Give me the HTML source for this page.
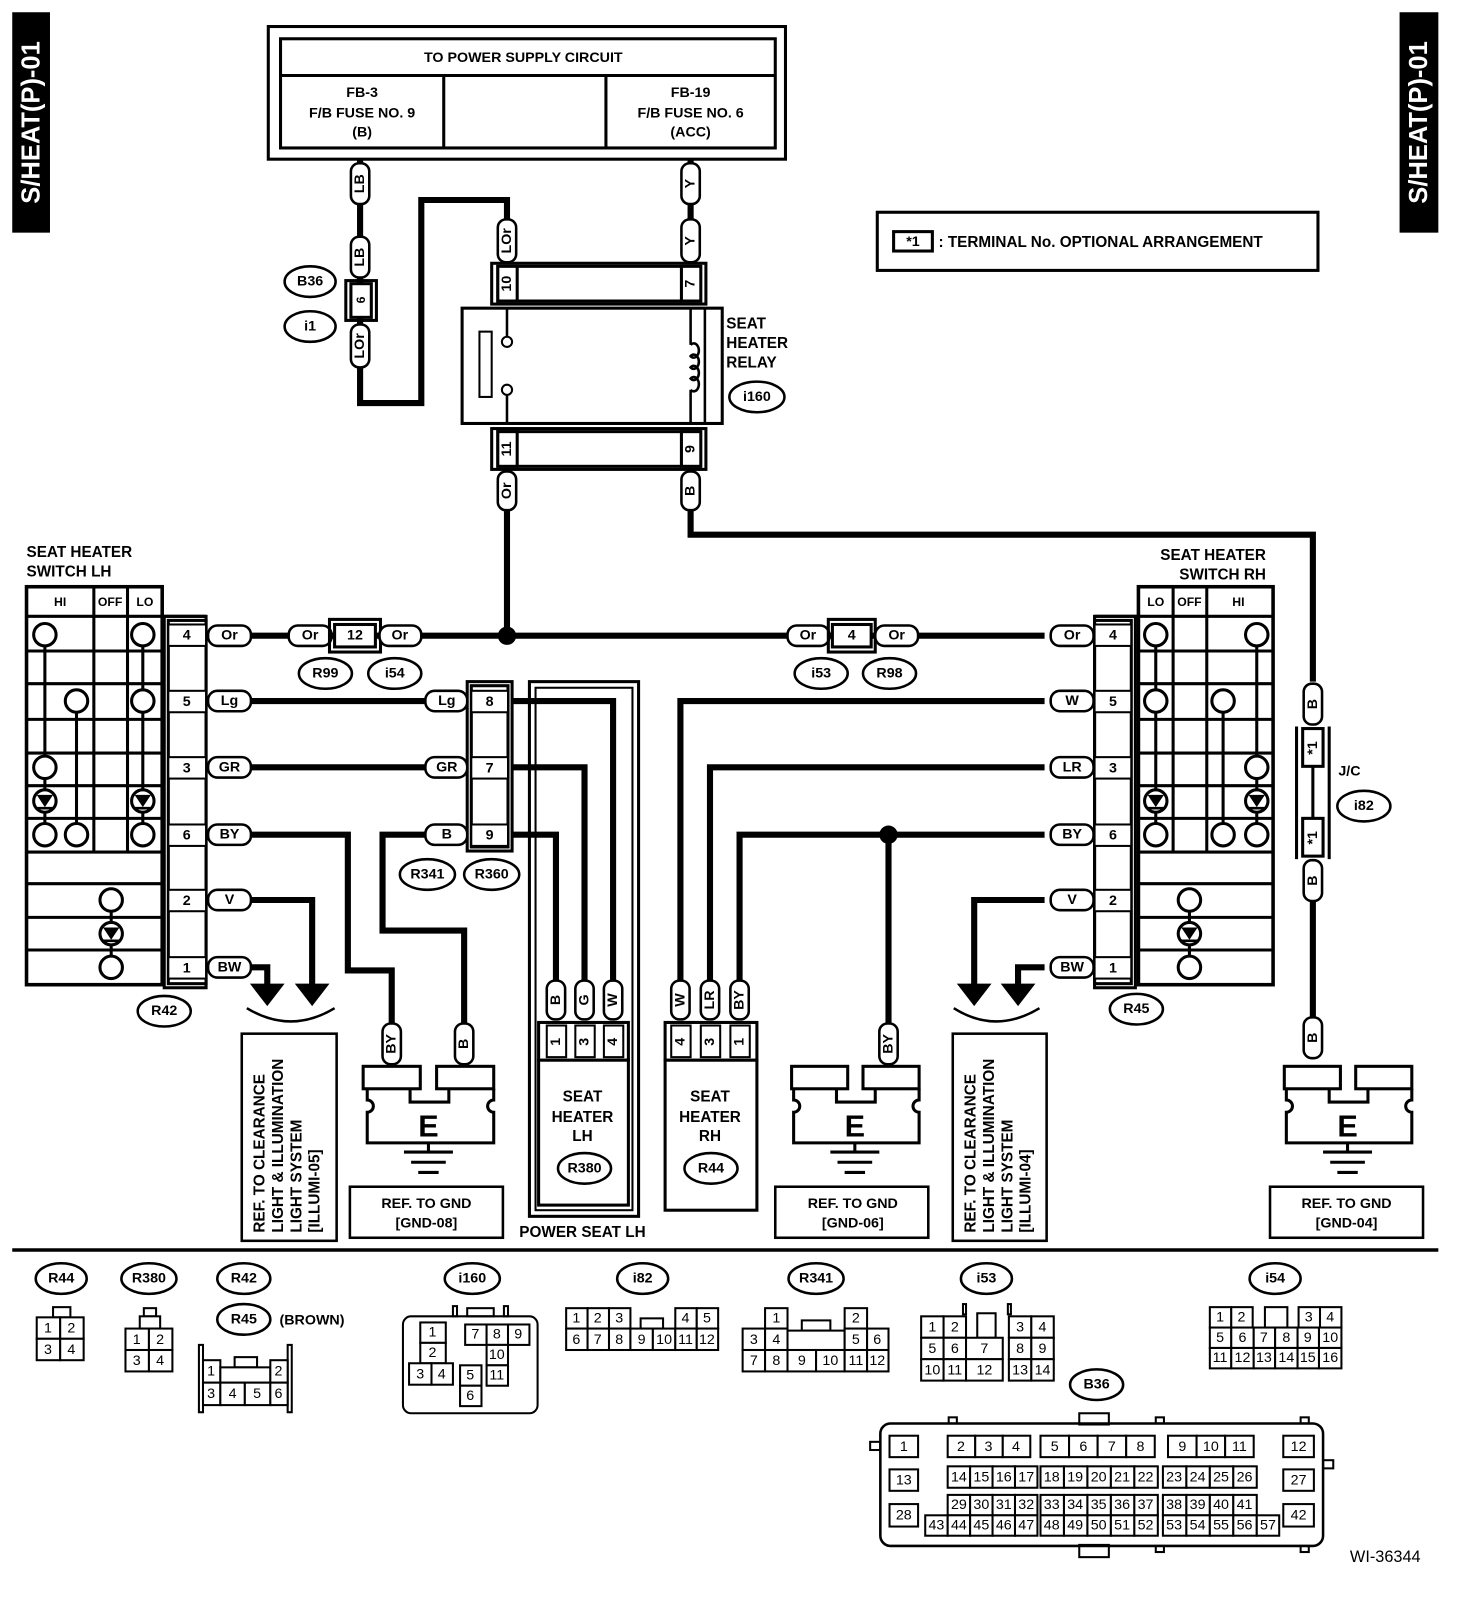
<!DOCTYPE html>
<html><head><meta charset="utf-8">
<style>
html,body{margin:0;padding:0;background:#fff;}
svg{display:block;}
.w{stroke:#000;stroke-width:6;fill:none;stroke-linejoin:miter}
.l{stroke:#000;stroke-width:3;fill:none}
.b{stroke:#000;stroke-width:3;fill:#fff}
.p{stroke:#000;stroke-width:2.5;fill:#fff}
.c{stroke:#000;stroke-width:2;fill:#fff}
.t{font-family:"Liberation Sans",sans-serif;font-weight:bold;font-size:14px;text-anchor:middle;dominant-baseline:central}
.s{font-family:"Liberation Sans",sans-serif;font-weight:bold;font-size:15px}
.n{font-family:"Liberation Sans",sans-serif;font-size:14px;text-anchor:middle;dominant-baseline:central}
</style></head><body>
<svg width="1472" height="1600" viewBox="0 0 1443 1568" preserveAspectRatio="none" xmlns="http://www.w3.org/2000/svg">
<rect x="0" y="0" width="1443" height="1568" fill="#fff"/>
<!-- side bars -->
<rect x="12" y="12" width="37" height="216" fill="#000"/>
<text transform="translate(31,120) rotate(-90)" fill="#fff" style="font-family:'Liberation Sans',sans-serif;font-weight:bold;font-size:25px;text-anchor:middle;dominant-baseline:central">S/HEAT(P)-01</text>
<rect x="1372" y="12" width="38" height="216" fill="#000"/>
<text transform="translate(1391,120) rotate(-90)" fill="#fff" style="font-family:'Liberation Sans',sans-serif;font-weight:bold;font-size:25px;text-anchor:middle;dominant-baseline:central">S/HEAT(P)-01</text>

<!-- power supply box -->
<rect x="263" y="26" width="507" height="130" class="l"/>
<rect x="275" y="38" width="485" height="107" class="l"/>
<line x1="275" y1="74" x2="760" y2="74" class="l"/>
<line x1="435" y1="74" x2="435" y2="145" class="l"/>
<line x1="594" y1="74" x2="594" y2="145" class="l"/>
<text x="513" y="57" class="t">TO POWER SUPPLY CIRCUIT</text>
<text x="355" y="91" class="t">FB-3</text><text x="355" y="111" class="t">F/B FUSE NO. 9</text><text x="355" y="130" class="t">(B)</text>
<text x="677" y="91" class="t">FB-19</text><text x="677" y="111" class="t">F/B FUSE NO. 6</text><text x="677" y="130" class="t">(ACC)</text>

<!-- note box -->
<rect x="860" y="208" width="432" height="57" class="l"/>
<rect x="876" y="227" width="38" height="19" class="l"/>
<text x="895" y="237" class="t">*1</text>
<text x="920" y="242" class="s">: TERMINAL No. OPTIONAL ARRANGEMENT</text>

<!-- top wires -->
<polyline points="353,156 353,395 413,395 413,196 497,196 497,258" class="w"/>
<line x1="677" y1="156" x2="677" y2="258" class="w"/>
<rect x="344" y="160" width="18" height="40" rx="8" class="p"/><text transform="translate(353,180) rotate(-90)" class="t">LB</text>
<rect x="344" y="232" width="18" height="40" rx="8" class="p"/><text transform="translate(353,252) rotate(-90)" class="t">LB</text>
<rect x="339" y="275" width="30" height="39" class="l"/>
<rect x="344" y="278" width="20" height="33" class="b"/><text transform="translate(354,294) rotate(-90)" class="t" style="font-size:12px">6</text>
<rect x="344" y="318" width="18" height="42" rx="8" class="p"/><text transform="translate(353,339) rotate(-90)" class="t">LOr</text>
<rect x="488" y="215" width="18" height="42" rx="8" class="p"/><text transform="translate(497,236) rotate(-90)" class="t">LOr</text>
<rect x="668" y="160" width="18" height="40" rx="8" class="p"/><text transform="translate(677,180) rotate(-90)" class="t">Y</text>
<rect x="668" y="215" width="18" height="42" rx="8" class="p"/><text transform="translate(677,236) rotate(-90)" class="t">Y</text>
<ellipse cx="304" cy="276" rx="25" ry="15" class="p"/><text x="304" y="276" class="t">B36</text>
<ellipse cx="304" cy="320" rx="25" ry="15" class="p"/><text x="304" y="320" class="t">i1</text>

<!-- relay -->
<rect x="482" y="258" width="210" height="40" class="l"/>
<rect x="488" y="261" width="198" height="34" class="l"/>
<rect x="488" y="261" width="19" height="34" class="b"/><text transform="translate(497,278) rotate(-90)" class="t">10</text>
<rect x="668" y="261" width="19" height="34" class="b"/><text transform="translate(677,278) rotate(-90)" class="t">7</text>
<rect x="453" y="302" width="255" height="113" class="l"/>
<line x1="497" y1="302" x2="497" y2="330" stroke="#000" stroke-width="2.5"/>
<circle cx="497" cy="335" r="5" class="c"/>
<circle cx="497" cy="382" r="5" class="c"/>
<line x1="497" y1="387" x2="497" y2="415" stroke="#000" stroke-width="2.5"/>
<rect x="470" y="325" width="12" height="64" class="c"/>
<line x1="691" y1="302" x2="691" y2="415" stroke="#000" stroke-width="2.5"/>
<path d="M677,302 V338 M677,338 a5,7 0 1 1 0,11 a5,7 0 1 1 0,11 a5,7 0 1 1 0,11 a5,7 0 1 1 0,11 M677,382 V415" stroke="#000" stroke-width="2.5" fill="none"/>
<text x="712" y="322" class="s">SEAT</text><text x="712" y="341" class="s">HEATER</text><text x="712" y="360" class="s">RELAY</text>
<ellipse cx="742" cy="389" rx="27" ry="15" class="p"/><text x="742" y="389" class="t">i160</text>
<rect x="482" y="420" width="210" height="40" class="l"/>
<rect x="488" y="423" width="198" height="34" class="l"/>
<rect x="488" y="423" width="19" height="34" class="b"/><text transform="translate(497,440) rotate(-90)" class="t">11</text>
<rect x="668" y="423" width="19" height="34" class="b"/><text transform="translate(677,440) rotate(-90)" class="t">9</text>

<!-- main wires -->
<line x1="497" y1="500" x2="497" y2="623" class="w"/>
<polyline points="677,500 677,524 1287,524 1287,668" class="w"/>
<line x1="246" y1="623" x2="1024" y2="623" class="w"/>
<circle cx="497" cy="623" r="9" fill="#000"/>
<rect x="488" y="462" width="18" height="38" rx="8" class="p"/><text transform="translate(497,481) rotate(-90)" class="t">Or</text>
<rect x="668" y="462" width="18" height="38" rx="8" class="p"/><text transform="translate(677,481) rotate(-90)" class="t">B</text>

<!-- LH wires -->
<line x1="246" y1="687" x2="417" y2="687" class="w"/>
<line x1="246" y1="752" x2="417" y2="752" class="w"/>
<polyline points="246,818 341,818 341,951 384,951 384,1002" class="w"/>
<polyline points="417,818 375,818 375,912 455,912 455,1002" class="w"/>
<polyline points="246,882 306,882 306,965" class="w"/>
<polyline points="246,948 262,948 262,965" class="w"/>
<polygon points="289,964 323,964 306,986" fill="#000"/>
<polygon points="245,964 279,964 262,986" fill="#000"/>
<path d="M242,988 Q285,1014 328,988" stroke="#000" stroke-width="2.5" fill="none"/>
<polyline points="502,687 601,687 601,961" class="w"/>
<polyline points="502,752 573,752 573,961" class="w"/>
<polyline points="502,818 545,818 545,961" class="w"/>

<!-- RH wires -->
<polyline points="1024,687 667,687 667,961" class="w"/>
<polyline points="1024,752 696,752 696,961" class="w"/>
<polyline points="1024,818 725,818 725,961" class="w"/>
<line x1="871" y1="818" x2="871" y2="1003" class="w"/>
<circle cx="871" cy="818" r="9" fill="#000"/>
<polyline points="1024,882 955,882 955,965" class="w"/>
<polyline points="1024,948 998,948 998,965" class="w"/>
<polygon points="938,964 972,964 955,986" fill="#000"/>
<polygon points="981,964 1015,964 998,986" fill="#000"/>
<path d="M935,988 Q976,1014 1019,988" stroke="#000" stroke-width="2.5" fill="none"/>
<line x1="1287" y1="880" x2="1287" y2="1000" class="w"/>

<!-- Or chain pills -->
<rect x="283" y="613" width="42" height="20" rx="9" class="p"/><text x="304" y="623" class="t">Or</text>
<rect x="323" y="607" width="50" height="32" class="l"/>
<rect x="328" y="612" width="40" height="22" class="b"/><text x="348" y="623" class="t">12</text>
<rect x="372" y="613" width="41" height="20" rx="9" class="p"/><text x="392" y="623" class="t">Or</text>
<rect x="772" y="613" width="41" height="20" rx="9" class="p"/><text x="792" y="623" class="t">Or</text>
<rect x="812" y="607" width="46" height="32" class="l"/>
<rect x="816" y="612" width="38" height="22" class="b"/><text x="835" y="623" class="t">4</text>
<rect x="858" y="613" width="42" height="20" rx="9" class="p"/><text x="879" y="623" class="t">Or</text>
<ellipse cx="319" cy="660" rx="26" ry="15" class="p"/><text x="319" y="660" class="t">R99</text>
<ellipse cx="387" cy="660" rx="26" ry="15" class="p"/><text x="387" y="660" class="t">i54</text>
<ellipse cx="805" cy="660" rx="26" ry="15" class="p"/><text x="805" y="660" class="t">i53</text>
<ellipse cx="872" cy="660" rx="26" ry="15" class="p"/><text x="872" y="660" class="t">R98</text>

<!-- LH switch -->
<text x="26" y="546" class="s">SEAT HEATER</text>
<text x="26" y="565" class="s">SWITCH LH</text>
<rect x="26" y="575" width="133" height="390" class="l" style="stroke-width:3.5"/>
<line x1="26" y1="604" x2="202" y2="604" class="l"/>
<line x1="92" y1="575" x2="92" y2="835" class="l"/>
<line x1="125" y1="575" x2="125" y2="835" class="l"/>
<g class="l">
<line x1="26" y1="638" x2="159" y2="638"/><line x1="26" y1="670" x2="159" y2="670"/><line x1="26" y1="705" x2="159" y2="705"/><line x1="26" y1="738" x2="159" y2="738"/><line x1="26" y1="770" x2="159" y2="770"/><line x1="26" y1="802" x2="159" y2="802"/><line x1="26" y1="835" x2="159" y2="835"/><line x1="26" y1="866" x2="159" y2="866"/><line x1="26" y1="899" x2="159" y2="899"/><line x1="26" y1="931" x2="159" y2="931"/>
</g>
<text x="59" y="590" class="t" style="font-size:12px">HI</text><text x="108" y="590" class="t" style="font-size:12px">OFF</text><text x="142" y="590" class="t" style="font-size:12px">LO</text>
<g stroke="#000" stroke-width="3"><line x1="44" y1="622" x2="44" y2="818"/><line x1="75" y1="687" x2="75" y2="818"/><line x1="140" y1="622" x2="140" y2="818"/><line x1="109" y1="882" x2="109" y2="948"/></g>
<g class="b">
<circle cx="44" cy="622" r="11"/><circle cx="140" cy="622" r="11"/><circle cx="75" cy="687" r="11"/><circle cx="140" cy="687" r="11"/><circle cx="44" cy="752" r="11"/><circle cx="44" cy="785" r="11"/><circle cx="140" cy="785" r="11"/><circle cx="44" cy="818" r="11"/><circle cx="75" cy="818" r="11"/><circle cx="140" cy="818" r="11"/><circle cx="109" cy="882" r="11"/><circle cx="109" cy="915" r="11"/><circle cx="109" cy="948" r="11"/>
</g>
<g fill="#000"><polygon points="36,779 52,779 44,791"/><polygon points="132,779 148,779 140,791"/><polygon points="101,909 117,909 109,921"/></g>
<g stroke="#000" stroke-width="2.5"><line x1="36" y1="792" x2="52" y2="792"/><line x1="132" y1="792" x2="148" y2="792"/><line x1="101" y1="922" x2="117" y2="922"/></g>
<!-- LH terminal block -->
<rect x="161" y="604" width="41" height="364" class="l"/>
<rect x="165" y="608" width="37" height="356" class="l"/>
<g class="c"><rect x="165" y="612" width="37" height="21"/><rect x="165" y="677" width="37" height="21"/><rect x="165" y="742" width="37" height="21"/><rect x="165" y="808" width="37" height="21"/><rect x="165" y="872" width="37" height="21"/><rect x="165" y="938" width="37" height="21"/></g>
<text x="183" y="623" class="t">4</text><text x="183" y="688" class="t">5</text><text x="183" y="753" class="t">3</text><text x="183" y="819" class="t">6</text><text x="183" y="883" class="t">2</text><text x="183" y="949" class="t">1</text>
<g class="p"><rect x="204" y="613" width="42" height="20" rx="9"/><rect x="204" y="677" width="42" height="20" rx="9"/><rect x="204" y="742" width="42" height="20" rx="9"/><rect x="204" y="808" width="42" height="20" rx="9"/><rect x="204" y="872" width="42" height="20" rx="9"/><rect x="204" y="938" width="42" height="20" rx="9"/></g>
<text x="225" y="623" class="t">Or</text><text x="225" y="687" class="t">Lg</text><text x="225" y="752" class="t">GR</text><text x="225" y="818" class="t">BY</text><text x="225" y="882" class="t">V</text><text x="225" y="948" class="t">BW</text>
<ellipse cx="161" cy="991" rx="26" ry="15" class="p"/><text x="161" y="991" class="t">R42</text>

<!-- R341 connector -->
<rect x="458" y="668" width="44" height="166" class="l"/>
<rect x="462" y="672" width="36" height="158" class="l"/>
<g class="c"><rect x="462" y="677" width="36" height="21"/><rect x="462" y="742" width="36" height="21"/><rect x="462" y="808" width="36" height="21"/></g>
<text x="480" y="688" class="t">8</text><text x="480" y="753" class="t">7</text><text x="480" y="819" class="t">9</text>
<g class="p"><rect x="417" y="677" width="41" height="20" rx="9"/><rect x="417" y="742" width="41" height="20" rx="9"/><rect x="417" y="808" width="41" height="20" rx="9"/></g>
<text x="438" y="687" class="t">Lg</text><text x="438" y="752" class="t">GR</text><text x="438" y="818" class="t">B</text>
<ellipse cx="419" cy="857" rx="27" ry="15" class="p"/><text x="419" y="857" class="t">R341</text>
<ellipse cx="482" cy="857" rx="27" ry="15" class="p"/><text x="482" y="857" class="t">R360</text>

<!-- Power seat LH -->
<rect x="519" y="668" width="107" height="524" class="l"/>
<rect x="525" y="674" width="95" height="512" class="l" style="stroke-width:2"/>
<rect x="528" y="1002" width="88" height="37" class="l"/>
<g class="c"><rect x="536" y="1005" width="19" height="31"/><rect x="564" y="1005" width="19" height="31"/><rect x="592" y="1005" width="19" height="31"/></g>
<text transform="translate(545,1021) rotate(-90)" class="t">1</text><text transform="translate(573,1021) rotate(-90)" class="t">3</text><text transform="translate(601,1021) rotate(-90)" class="t">4</text>
<rect x="528" y="1039" width="88" height="142" class="b"/>
<text x="571" y="1075" class="t" style="font-size:15px">SEAT</text><text x="571" y="1095" class="t" style="font-size:15px">HEATER</text><text x="571" y="1114" class="t" style="font-size:15px">LH</text>
<ellipse cx="573" cy="1145" rx="26" ry="15" class="p"/><text x="573" y="1145" class="t">R380</text>
<g class="p"><rect x="536" y="961" width="18" height="38" rx="8"/><rect x="564" y="961" width="18" height="38" rx="8"/><rect x="592" y="961" width="18" height="38" rx="8"/></g>
<text transform="translate(545,980) rotate(-90)" class="t">B</text><text transform="translate(573,980) rotate(-90)" class="t">G</text><text transform="translate(601,980) rotate(-90)" class="t">W</text>
<text x="571" y="1208" class="t" style="font-size:15px">POWER SEAT LH</text>

<!-- Seat heater RH -->
<rect x="652" y="1002" width="90" height="37" class="l"/>
<g class="c"><rect x="658" y="1005" width="19" height="31"/><rect x="687" y="1005" width="19" height="31"/><rect x="716" y="1005" width="19" height="31"/></g>
<text transform="translate(667,1021) rotate(-90)" class="t">4</text><text transform="translate(696,1021) rotate(-90)" class="t">3</text><text transform="translate(725,1021) rotate(-90)" class="t">1</text>
<rect x="652" y="1039" width="90" height="147" class="b"/>
<text x="696" y="1075" class="t" style="font-size:15px">SEAT</text><text x="696" y="1095" class="t" style="font-size:15px">HEATER</text><text x="696" y="1114" class="t" style="font-size:15px">RH</text>
<ellipse cx="697" cy="1145" rx="26" ry="15" class="p"/><text x="697" y="1145" class="t">R44</text>
<g class="p"><rect x="658" y="961" width="18" height="38" rx="8"/><rect x="687" y="961" width="18" height="38" rx="8"/><rect x="716" y="961" width="18" height="38" rx="8"/></g>
<text transform="translate(667,980) rotate(-90)" class="t">W</text><text transform="translate(696,980) rotate(-90)" class="t">LR</text><text transform="translate(725,980) rotate(-90)" class="t">BY</text>

<!-- Ground LH -->
<rect x="375" y="1003" width="18" height="40" rx="8" class="p"/><text transform="translate(384,1023) rotate(-90)" class="t">BY</text>
<rect x="446" y="1003" width="18" height="40" rx="8" class="p"/><text transform="translate(455,1023) rotate(-90)" class="t">B</text>
<rect x="356" y="1045" width="56" height="22" class="b"/><rect x="428" y="1045" width="56" height="22" class="b"/>
<path d="M360,1067 V1078 a6,6 0 0 1 0,12 V1120 H484 V1090 a6,6 0 0 1 0,-12 V1067 M402,1067 V1080 H440 V1067" class="l"/>
<text x="420" y="1104" class="t" style="font-size:30px">E</text>
<g stroke="#000" stroke-width="3"><line x1="420" y1="1120" x2="420" y2="1129"/><line x1="396" y1="1129" x2="444" y2="1129"/><line x1="403" y1="1139" x2="437" y2="1139"/><line x1="410" y1="1149" x2="430" y2="1149"/></g>
<rect x="343" y="1163" width="150" height="50" class="l" style="stroke-width:2.5"/>
<text x="418" y="1180" class="t">REF. TO GND</text><text x="418" y="1199" class="t">[GND-08]</text>

<!-- Ground mid -->
<rect x="862" y="1003" width="18" height="40" rx="8" class="p"/><text transform="translate(871,1023) rotate(-90)" class="t">BY</text>
<rect x="776" y="1045" width="55" height="22" class="b"/><rect x="846" y="1045" width="55" height="22" class="b"/>
<path d="M778,1067 V1078 a6,6 0 0 1 0,12 V1120 H901 V1090 a6,6 0 0 1 0,-12 V1067 M820,1067 V1080 H858 V1067" class="l"/>
<text x="838" y="1104" class="t" style="font-size:30px">E</text>
<g stroke="#000" stroke-width="3"><line x1="838" y1="1120" x2="838" y2="1129"/><line x1="814" y1="1129" x2="862" y2="1129"/><line x1="821" y1="1139" x2="855" y2="1139"/><line x1="828" y1="1149" x2="848" y2="1149"/></g>
<rect x="760" y="1163" width="150" height="50" class="l" style="stroke-width:2.5"/>
<text x="836" y="1180" class="t">REF. TO GND</text><text x="836" y="1199" class="t">[GND-06]</text>

<!-- Ground right -->
<rect x="1278" y="997" width="18" height="40" rx="8" class="p"/><text transform="translate(1287,1017) rotate(-90)" class="t">B</text>
<rect x="1259" y="1045" width="55" height="22" class="b"/><rect x="1329" y="1045" width="55" height="22" class="b"/>
<path d="M1261,1067 V1078 a6,6 0 0 1 0,12 V1120 H1384 V1090 a6,6 0 0 1 0,-12 V1067 M1303,1067 V1080 H1341 V1067" class="l"/>
<text x="1321" y="1104" class="t" style="font-size:30px">E</text>
<g stroke="#000" stroke-width="3"><line x1="1321" y1="1120" x2="1321" y2="1129"/><line x1="1297" y1="1129" x2="1345" y2="1129"/><line x1="1304" y1="1139" x2="1338" y2="1139"/><line x1="1311" y1="1149" x2="1331" y2="1149"/></g>
<rect x="1245" y="1163" width="150" height="50" class="l" style="stroke-width:2.5"/>
<text x="1320" y="1180" class="t">REF. TO GND</text><text x="1320" y="1199" class="t">[GND-04]</text>

<!-- REF clearance boxes -->
<rect x="237" y="1013" width="93" height="203" class="l" style="stroke-width:2.5"/>
<text transform="translate(255,1208) rotate(-90)" class="s" style="dominant-baseline:central">REF. TO CLEARANCE</text>
<text transform="translate(273,1208) rotate(-90)" class="s" style="dominant-baseline:central">LIGHT &amp; ILLUMINATION</text>
<text transform="translate(291,1208) rotate(-90)" class="s" style="dominant-baseline:central">LIGHT SYSTEM</text>
<text transform="translate(309,1208) rotate(-90)" class="s" style="dominant-baseline:central">[ILLUMI-05]</text>
<rect x="934" y="1013" width="92" height="203" class="l" style="stroke-width:2.5"/>
<text transform="translate(952,1208) rotate(-90)" class="s" style="dominant-baseline:central">REF. TO CLEARANCE</text>
<text transform="translate(970,1208) rotate(-90)" class="s" style="dominant-baseline:central">LIGHT &amp; ILLUMINATION</text>
<text transform="translate(988,1208) rotate(-90)" class="s" style="dominant-baseline:central">LIGHT SYSTEM</text>
<text transform="translate(1006,1208) rotate(-90)" class="s" style="dominant-baseline:central">[ILLUMI-04]</text>

<!-- RH switch -->
<text x="1241" y="549" class="s" style="text-anchor:end">SEAT HEATER</text>
<text x="1241" y="568" class="s" style="text-anchor:end">SWITCH RH</text>
<rect x="1116" y="575" width="132" height="390" class="l" style="stroke-width:3.5"/>
<line x1="1073" y1="604" x2="1248" y2="604" class="l"/>
<line x1="1150" y1="575" x2="1150" y2="835" class="l"/>
<line x1="1183" y1="575" x2="1183" y2="835" class="l"/>
<g class="l">
<line x1="1116" y1="638" x2="1248" y2="638"/><line x1="1116" y1="670" x2="1248" y2="670"/><line x1="1116" y1="705" x2="1248" y2="705"/><line x1="1116" y1="738" x2="1248" y2="738"/><line x1="1116" y1="770" x2="1248" y2="770"/><line x1="1116" y1="802" x2="1248" y2="802"/><line x1="1116" y1="835" x2="1248" y2="835"/><line x1="1116" y1="866" x2="1248" y2="866"/><line x1="1116" y1="899" x2="1248" y2="899"/><line x1="1116" y1="931" x2="1248" y2="931"/>
</g>
<text x="1133" y="590" class="t" style="font-size:12px">LO</text><text x="1166" y="590" class="t" style="font-size:12px">OFF</text><text x="1214" y="590" class="t" style="font-size:12px">HI</text>
<g stroke="#000" stroke-width="3"><line x1="1133" y1="622" x2="1133" y2="818"/><line x1="1199" y1="687" x2="1199" y2="818"/><line x1="1232" y1="622" x2="1232" y2="818"/><line x1="1166" y1="882" x2="1166" y2="948"/></g>
<g class="b">
<circle cx="1133" cy="622" r="11"/><circle cx="1232" cy="622" r="11"/><circle cx="1133" cy="687" r="11"/><circle cx="1199" cy="687" r="11"/><circle cx="1232" cy="752" r="11"/><circle cx="1133" cy="785" r="11"/><circle cx="1232" cy="785" r="11"/><circle cx="1133" cy="818" r="11"/><circle cx="1199" cy="818" r="11"/><circle cx="1232" cy="818" r="11"/><circle cx="1166" cy="882" r="11"/><circle cx="1166" cy="915" r="11"/><circle cx="1166" cy="948" r="11"/>
</g>
<g fill="#000"><polygon points="1125,779 1141,779 1133,791"/><polygon points="1224,779 1240,779 1232,791"/><polygon points="1158,909 1174,909 1166,921"/></g>
<g stroke="#000" stroke-width="2.5"><line x1="1125" y1="792" x2="1141" y2="792"/><line x1="1224" y1="792" x2="1240" y2="792"/><line x1="1158" y1="922" x2="1174" y2="922"/></g>
<rect x="1073" y="604" width="40" height="364" class="l"/>
<rect x="1073" y="608" width="36" height="356" class="l"/>
<g class="c"><rect x="1073" y="612" width="36" height="21"/><rect x="1073" y="677" width="36" height="21"/><rect x="1073" y="742" width="36" height="21"/><rect x="1073" y="808" width="36" height="21"/><rect x="1073" y="872" width="36" height="21"/><rect x="1073" y="938" width="36" height="21"/></g>
<text x="1091" y="623" class="t">4</text><text x="1091" y="688" class="t">5</text><text x="1091" y="753" class="t">3</text><text x="1091" y="819" class="t">6</text><text x="1091" y="883" class="t">2</text><text x="1091" y="949" class="t">1</text>
<g class="p"><rect x="1030" y="613" width="42" height="20" rx="9"/><rect x="1030" y="677" width="42" height="20" rx="9"/><rect x="1030" y="742" width="42" height="20" rx="9"/><rect x="1030" y="808" width="42" height="20" rx="9"/><rect x="1030" y="872" width="42" height="20" rx="9"/><rect x="1030" y="938" width="42" height="20" rx="9"/></g>
<text x="1051" y="623" class="t">Or</text><text x="1051" y="687" class="t">W</text><text x="1051" y="752" class="t">LR</text><text x="1051" y="818" class="t">BY</text><text x="1051" y="882" class="t">V</text><text x="1051" y="948" class="t">BW</text>
<ellipse cx="1114" cy="989" rx="26" ry="15" class="p"/><text x="1114" y="989" class="t">R45</text>

<!-- J/C -->
<rect x="1278" y="670" width="18" height="40" rx="8" class="p"/><text transform="translate(1287,690) rotate(-90)" class="t">B</text>
<line x1="1271" y1="712" x2="1271" y2="842" class="l"/><line x1="1303" y1="712" x2="1303" y2="842" class="l"/>
<line x1="1287" y1="752" x2="1287" y2="802" class="l"/>
<rect x="1277" y="714" width="20" height="37" class="b"/><text transform="translate(1287,733) rotate(-90)" class="t">*1</text>
<rect x="1277" y="802" width="20" height="37" class="b"/><text transform="translate(1287,821) rotate(-90)" class="t">*1</text>
<rect x="1278" y="843" width="18" height="40" rx="8" class="p"/><text transform="translate(1287,863) rotate(-90)" class="t">B</text>
<text x="1312" y="760" class="s" style="font-size:14px">J/C</text>
<ellipse cx="1337" cy="790" rx="26" ry="15" class="p"/><text x="1337" y="790" class="t">i82</text>

<!-- separator -->
<line x1="12" y1="1225" x2="1410" y2="1225" stroke="#000" stroke-width="3.5"/>

<!-- bottom connectors -->
<ellipse cx="60" cy="1253" rx="25" ry="15" class="p"/><text x="60" y="1253" class="t">R44</text>
<rect x="52" y="1281" width="17" height="10" class="c"/>
<g class="c"><rect x="36" y="1291" width="23" height="21"/><rect x="59" y="1291" width="23" height="21"/><rect x="36" y="1312" width="23" height="21"/><rect x="59" y="1312" width="23" height="21"/></g>
<text x="47" y="1302" class="n">1</text><text x="70" y="1302" class="n">2</text><text x="47" y="1323" class="n">3</text><text x="70" y="1323" class="n">4</text>

<ellipse cx="146" cy="1253" rx="27" ry="15" class="p"/><text x="146" y="1253" class="t">R380</text>
<rect x="141" y="1282" width="12" height="8" class="c"/><rect x="137" y="1290" width="20" height="12" class="c"/>
<g class="c"><rect x="123" y="1302" width="23" height="21"/><rect x="146" y="1302" width="23" height="21"/><rect x="123" y="1323" width="23" height="21"/><rect x="146" y="1323" width="23" height="21"/></g>
<text x="134" y="1313" class="n">1</text><text x="157" y="1313" class="n">2</text><text x="134" y="1334" class="n">3</text><text x="157" y="1334" class="n">4</text>

<ellipse cx="239" cy="1253" rx="26" ry="15" class="p"/><text x="239" y="1253" class="t">R42</text>
<ellipse cx="239" cy="1293" rx="26" ry="15" class="p"/><text x="239" y="1293" class="t">R45</text>
<text x="274" y="1298" class="s" style="font-size:14px">(BROWN)</text>
<g class="c">
<rect x="195" y="1318" width="4" height="66"/><rect x="282" y="1318" width="4" height="66"/>
<rect x="230" y="1330" width="22" height="10"/>
<rect x="199" y="1333" width="17" height="22"/><rect x="216" y="1340" width="49" height="15"/><rect x="265" y="1333" width="17" height="22"/>
<rect x="199" y="1355" width="17" height="22"/><rect x="216" y="1355" width="24" height="22"/><rect x="240" y="1355" width="25" height="22"/><rect x="265" y="1355" width="17" height="22"/>
</g>
<text x="207" y="1344" class="n">1</text><text x="273" y="1344" class="n">2</text><text x="207" y="1366" class="n">3</text><text x="228" y="1366" class="n">4</text><text x="252" y="1366" class="n">5</text><text x="273" y="1366" class="n">6</text>

<ellipse cx="463" cy="1253" rx="27" ry="15" class="p"/><text x="463" y="1253" class="t">i160</text>
<g class="c"><rect x="444" y="1280" width="4" height="10"/><rect x="494" y="1280" width="4" height="10"/><rect x="458" y="1282" width="26" height="8"/></g>
<rect x="395" y="1290" width="132" height="95" rx="8" class="l" style="stroke-width:2"/>
<g class="c">
<rect x="412" y="1296" width="25" height="20"/><rect x="412" y="1316" width="25" height="20"/><rect x="401" y="1336" width="22" height="21"/><rect x="423" y="1336" width="21" height="21"/>
<rect x="456" y="1298" width="21" height="20"/><rect x="477" y="1298" width="21" height="20"/><rect x="498" y="1298" width="21" height="20"/>
<rect x="477" y="1318" width="21" height="20"/><rect x="477" y="1338" width="21" height="20"/>
<rect x="451" y="1338" width="21" height="20"/><rect x="451" y="1358" width="21" height="20"/>
</g>
<text x="424" y="1306" class="n">1</text><text x="424" y="1326" class="n">2</text><text x="412" y="1347" class="n">3</text><text x="433" y="1347" class="n">4</text>
<text x="466" y="1308" class="n">7</text><text x="487" y="1308" class="n">8</text><text x="508" y="1308" class="n">9</text><text x="487" y="1328" class="n">10</text><text x="487" y="1348" class="n">11</text><text x="461" y="1348" class="n">5</text><text x="461" y="1368" class="n">6</text>

<ellipse cx="630" cy="1253" rx="25" ry="15" class="p"/><text x="630" y="1253" class="t">i82</text>
<g class="c">
<rect x="555" y="1282" width="21" height="20"/><rect x="576" y="1282" width="21" height="20"/><rect x="597" y="1282" width="21" height="20"/>
<rect x="628" y="1292" width="22" height="10"/>
<rect x="662" y="1282" width="21" height="20"/><rect x="683" y="1282" width="21" height="20"/>
<rect x="555" y="1302" width="21" height="21"/><rect x="576" y="1302" width="21" height="21"/><rect x="597" y="1302" width="21" height="21"/><rect x="618" y="1302" width="22" height="21"/><rect x="640" y="1302" width="22" height="21"/><rect x="662" y="1302" width="21" height="21"/><rect x="683" y="1302" width="21" height="21"/>
</g>
<text x="565" y="1292" class="n">1</text><text x="586" y="1292" class="n">2</text><text x="607" y="1292" class="n">3</text><text x="672" y="1292" class="n">4</text><text x="693" y="1292" class="n">5</text>
<text x="565" y="1313" class="n">6</text><text x="586" y="1313" class="n">7</text><text x="607" y="1313" class="n">8</text><text x="629" y="1313" class="n">9</text><text x="651" y="1313" class="n">10</text><text x="672" y="1313" class="n">11</text><text x="693" y="1313" class="n">12</text>

<ellipse cx="800" cy="1253" rx="27" ry="15" class="p"/><text x="800" y="1253" class="t">R341</text>
<g class="c">
<rect x="750" y="1282" width="22" height="20"/><rect x="828" y="1282" width="22" height="20"/>
<rect x="728" y="1302" width="22" height="21"/><rect x="750" y="1302" width="22" height="21"/><rect x="786" y="1294" width="28" height="10"/><rect x="772" y="1304" width="56" height="19"/><rect x="828" y="1302" width="22" height="21"/><rect x="850" y="1302" width="21" height="21"/>
<rect x="728" y="1323" width="22" height="21"/><rect x="750" y="1323" width="22" height="21"/><rect x="772" y="1323" width="28" height="21"/><rect x="800" y="1323" width="28" height="21"/><rect x="828" y="1323" width="22" height="21"/><rect x="850" y="1323" width="21" height="21"/>
</g>
<text x="761" y="1292" class="n">1</text><text x="839" y="1292" class="n">2</text><text x="739" y="1313" class="n">3</text><text x="761" y="1313" class="n">4</text><text x="839" y="1313" class="n">5</text><text x="860" y="1313" class="n">6</text>
<text x="739" y="1334" class="n">7</text><text x="761" y="1334" class="n">8</text><text x="786" y="1334" class="n">9</text><text x="814" y="1334" class="n">10</text><text x="839" y="1334" class="n">11</text><text x="860" y="1334" class="n">12</text>

<ellipse cx="967" cy="1253" rx="25" ry="15" class="p"/><text x="967" y="1253" class="t">i53</text>
<g class="c">
<rect x="944" y="1278" width="3" height="10"/><rect x="988" y="1278" width="3" height="10"/>
<rect x="958" y="1287" width="18" height="24"/>
<rect x="903" y="1290" width="22" height="21"/><rect x="925" y="1290" width="22" height="21"/><rect x="989" y="1290" width="22" height="21"/><rect x="1011" y="1290" width="22" height="21"/>
<rect x="903" y="1311" width="22" height="21"/><rect x="925" y="1311" width="22" height="21"/><rect x="947" y="1311" width="36" height="21"/><rect x="989" y="1311" width="22" height="21"/><rect x="1011" y="1311" width="22" height="21"/>
<rect x="903" y="1332" width="22" height="21"/><rect x="925" y="1332" width="22" height="21"/><rect x="947" y="1332" width="36" height="21"/><rect x="989" y="1332" width="22" height="21"/><rect x="1011" y="1332" width="22" height="21"/>
</g>
<text x="914" y="1301" class="n">1</text><text x="936" y="1301" class="n">2</text><text x="1000" y="1301" class="n">3</text><text x="1022" y="1301" class="n">4</text>
<text x="914" y="1322" class="n">5</text><text x="936" y="1322" class="n">6</text><text x="965" y="1322" class="n">7</text><text x="1000" y="1322" class="n">8</text><text x="1022" y="1322" class="n">9</text>
<text x="914" y="1343" class="n">10</text><text x="936" y="1343" class="n">11</text><text x="965" y="1343" class="n">12</text><text x="1000" y="1343" class="n">13</text><text x="1022" y="1343" class="n">14</text>

<ellipse cx="1250" cy="1253" rx="25" ry="15" class="p"/><text x="1250" y="1253" class="t">i54</text>
<g class="c">
<rect x="1186" y="1281" width="21" height="20"/><rect x="1207" y="1281" width="21" height="20"/><rect x="1240" y="1281" width="22" height="20"/><rect x="1273" y="1281" width="21" height="20"/><rect x="1294" y="1281" width="21" height="20"/>
<rect x="1186" y="1301" width="21" height="20"/><rect x="1207" y="1301" width="22" height="20"/><rect x="1229" y="1301" width="21" height="20"/><rect x="1250" y="1301" width="22" height="20"/><rect x="1272" y="1301" width="21" height="20"/><rect x="1293" y="1301" width="22" height="20"/>
<rect x="1186" y="1321" width="21" height="20"/><rect x="1207" y="1321" width="22" height="20"/><rect x="1229" y="1321" width="21" height="20"/><rect x="1250" y="1321" width="22" height="20"/><rect x="1272" y="1321" width="21" height="20"/><rect x="1293" y="1321" width="22" height="20"/>
</g>
<text x="1196" y="1291" class="n">1</text><text x="1217" y="1291" class="n">2</text><text x="1283" y="1291" class="n">3</text><text x="1304" y="1291" class="n">4</text>
<text x="1196" y="1311" class="n">5</text><text x="1218" y="1311" class="n">6</text><text x="1239" y="1311" class="n">7</text><text x="1261" y="1311" class="n">8</text><text x="1282" y="1311" class="n">9</text><text x="1304" y="1311" class="n">10</text>
<text x="1196" y="1331" class="n">11</text><text x="1218" y="1331" class="n">12</text><text x="1239" y="1331" class="n">13</text><text x="1261" y="1331" class="n">14</text><text x="1282" y="1331" class="n">15</text><text x="1304" y="1331" class="n">16</text>

<!-- B36 -->
<ellipse cx="1075" cy="1357" rx="26" ry="15" class="p"/><text x="1075" y="1357" class="t">B36</text>
<g class="c">
<rect x="1058" y="1385" width="29" height="11"/><rect x="1058" y="1514" width="29" height="12"/>
<rect x="930" y="1389" width="8" height="6"/><rect x="1133" y="1389" width="8" height="6"/><rect x="1275" y="1389" width="8" height="6"/>
<rect x="1133" y="1515" width="8" height="6"/><rect x="1275" y="1515" width="8" height="6"/>
<rect x="853" y="1413" width="10" height="8"/><rect x="1297" y="1431" width="10" height="8"/>
</g>
<rect x="863" y="1395" width="434" height="120" rx="10" class="l" style="stroke-width:2.5"/>
<g class="c">
<rect x="872" y="1407" width="28" height="21"/><rect x="929" y="1407" width="27" height="21"/><rect x="956" y="1407" width="27" height="21"/><rect x="983" y="1407" width="27" height="21"/>
<rect x="1020" y="1407" width="28" height="21"/><rect x="1048" y="1407" width="28" height="21"/><rect x="1076" y="1407" width="28" height="21"/><rect x="1104" y="1407" width="28" height="21"/>
<rect x="1145" y="1407" width="28" height="21"/><rect x="1173" y="1407" width="28" height="21"/><rect x="1201" y="1407" width="28" height="21"/><rect x="1258" y="1407" width="30" height="21"/>
<rect x="872" y="1440" width="28" height="21"/>
<rect x="929" y="1437" width="22" height="21"/><rect x="951" y="1437" width="22" height="21"/><rect x="973" y="1437" width="22" height="21"/><rect x="995" y="1437" width="22" height="21"/>
<rect x="1020" y="1437" width="23" height="21"/><rect x="1043" y="1437" width="23" height="21"/><rect x="1066" y="1437" width="23" height="21"/><rect x="1089" y="1437" width="23" height="21"/><rect x="1112" y="1437" width="23" height="21"/>
<rect x="1140" y="1437" width="23" height="21"/><rect x="1163" y="1437" width="23" height="21"/><rect x="1186" y="1437" width="23" height="21"/><rect x="1209" y="1437" width="23" height="21"/>
<rect x="1258" y="1440" width="30" height="21"/>
<rect x="929" y="1465" width="22" height="20"/><rect x="951" y="1465" width="22" height="20"/><rect x="973" y="1465" width="22" height="20"/><rect x="995" y="1465" width="22" height="20"/>
<rect x="1020" y="1465" width="23" height="20"/><rect x="1043" y="1465" width="23" height="20"/><rect x="1066" y="1465" width="23" height="20"/><rect x="1089" y="1465" width="23" height="20"/><rect x="1112" y="1465" width="23" height="20"/>
<rect x="1140" y="1465" width="23" height="20"/><rect x="1163" y="1465" width="23" height="20"/><rect x="1186" y="1465" width="23" height="20"/><rect x="1209" y="1465" width="23" height="20"/>
<rect x="872" y="1474" width="28" height="22"/><rect x="1258" y="1474" width="30" height="22"/>
<rect x="907" y="1485" width="22" height="20"/><rect x="929" y="1485" width="22" height="20"/><rect x="951" y="1485" width="22" height="20"/><rect x="973" y="1485" width="22" height="20"/><rect x="995" y="1485" width="22" height="20"/>
<rect x="1020" y="1485" width="23" height="20"/><rect x="1043" y="1485" width="23" height="20"/><rect x="1066" y="1485" width="23" height="20"/><rect x="1089" y="1485" width="23" height="20"/><rect x="1112" y="1485" width="23" height="20"/>
<rect x="1140" y="1485" width="23" height="20"/><rect x="1163" y="1485" width="23" height="20"/><rect x="1186" y="1485" width="23" height="20"/><rect x="1209" y="1485" width="23" height="20"/><rect x="1232" y="1485" width="22" height="20"/>
</g>
<g class="n">
<text x="886" y="1418">1</text><text x="942" y="1418">2</text><text x="969" y="1418">3</text><text x="996" y="1418">4</text>
<text x="1034" y="1418">5</text><text x="1062" y="1418">6</text><text x="1090" y="1418">7</text><text x="1118" y="1418">8</text>
<text x="1159" y="1418">9</text><text x="1187" y="1418">10</text><text x="1215" y="1418">11</text><text x="1273" y="1418">12</text>
<text x="886" y="1451">13</text>
<text x="940" y="1448">14</text><text x="962" y="1448">15</text><text x="984" y="1448">16</text><text x="1006" y="1448">17</text>
<text x="1031" y="1448">18</text><text x="1054" y="1448">19</text><text x="1077" y="1448">20</text><text x="1100" y="1448">21</text><text x="1123" y="1448">22</text>
<text x="1151" y="1448">23</text><text x="1174" y="1448">24</text><text x="1197" y="1448">25</text><text x="1220" y="1448">26</text>
<text x="1273" y="1451">27</text>
<text x="940" y="1475">29</text><text x="962" y="1475">30</text><text x="984" y="1475">31</text><text x="1006" y="1475">32</text>
<text x="1031" y="1475">33</text><text x="1054" y="1475">34</text><text x="1077" y="1475">35</text><text x="1100" y="1475">36</text><text x="1123" y="1475">37</text>
<text x="1151" y="1475">38</text><text x="1174" y="1475">39</text><text x="1197" y="1475">40</text><text x="1220" y="1475">41</text>
<text x="886" y="1485">28</text><text x="1273" y="1485">42</text>
<text x="918" y="1495">43</text><text x="940" y="1495">44</text><text x="962" y="1495">45</text><text x="984" y="1495">46</text><text x="1006" y="1495">47</text>
<text x="1031" y="1495">48</text><text x="1054" y="1495">49</text><text x="1077" y="1495">50</text><text x="1100" y="1495">51</text><text x="1123" y="1495">52</text>
<text x="1151" y="1495">53</text><text x="1174" y="1495">54</text><text x="1197" y="1495">55</text><text x="1220" y="1495">56</text><text x="1243" y="1495">57</text>
</g>
<text x="1358" y="1526" class="n" style="font-size:16px">WI-36344</text>
</svg>
</body></html>
